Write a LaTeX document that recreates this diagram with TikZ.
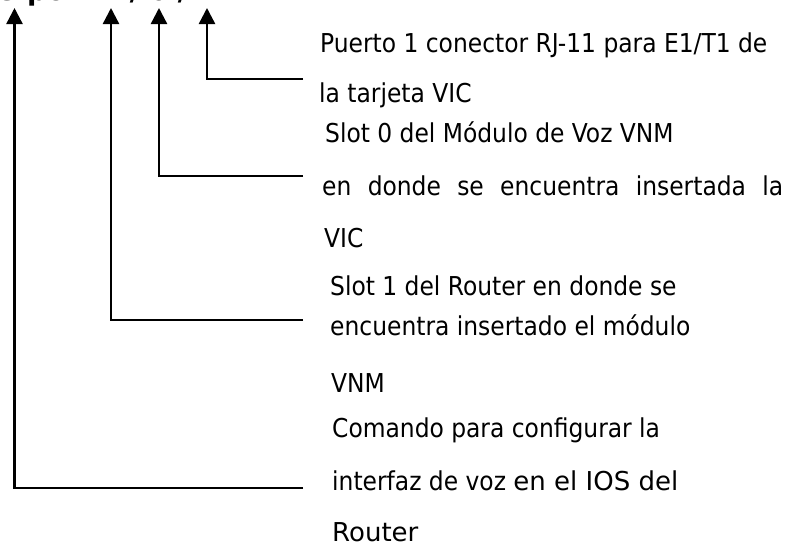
\documentclass[tikz,border=0pt]{standalone}
\usepackage{fontspec}
\setmainfont{DejaVu Sans Condensed}
\newfontfamily\verdfont{DejaVu Sans}
\usetikzlibrary{arrows.meta}

\tikzset{
	pointer/.style={line width=2.4pt, -{Triangle[width=16pt,length=16pt]}},
	txt/.style={anchor=base west, inner sep=0pt, font=\fontsize{26}{30}\selectfont},
}

\begin{document}
\begin{tikzpicture}[x=1pt,y=-1pt]
	%\draw[help lines, thick] (0,0) grid[step=50] (795,546);
	\clip (0,0) rectangle (795,546);
	\node[anchor=base east, inner sep=0pt, font=\verdfont\bfseries\fontsize{27.3}{30}\selectfont] (orden) at (216.5,0.5) {voice-port 1 / 0 / 1};
	% puntas y esquinas
	\coordinate (tipA) at (14.5,8);
	\coordinate (tipB) at (111,8);
	\coordinate (tipC) at (159,8);
	\coordinate (tipD) at (207,8);
	\coordinate (endA) at (303,488);
	\coordinate (endB) at (303,320);
	\coordinate (endC) at (303,176);
	\coordinate (endD) at (303,79);
	\draw[pointer] (endA) -| (tipA);
	\draw[pointer] (endB) -| (tipB);
	\draw[pointer] (endC) -| (tipC);
	\draw[pointer] (endD) -| (tipD);
	% textos
	\node[txt] (portA) at (320,52) {Puerto 1 conector RJ-11 para E1/T1 de};
	\node[txt] (portB) at (319,102) {la tarjeta VIC};
	\node[txt] (vnmA) at (325,142) {Slot 0 del Módulo de Voz VNM};
	\node[txt] (vnmB) at (322,195) {\makebox[461pt][s]{en donde se encuentra insertada la}};
	\node[txt] (vnmC) at (324,247) {VIC};
	\node[txt] (slotA) at (330,295) {Slot 1 del Router en donde se};
	\node[txt] (slotB) at (330,335) {encuentra insertado el módulo};
	\node[txt] (slotC) at (331,392) {VNM};
	\node[txt] (cmdA) at (332,437) {Comando para configurar la};
	\node[txt] (cmdB) at (332,490) {interfaz de voz {\verdfont en el IOS del}};
	\node[txt] (cmdC) at (332,541) {\verdfont Router};
\end{tikzpicture}
\end{document}
